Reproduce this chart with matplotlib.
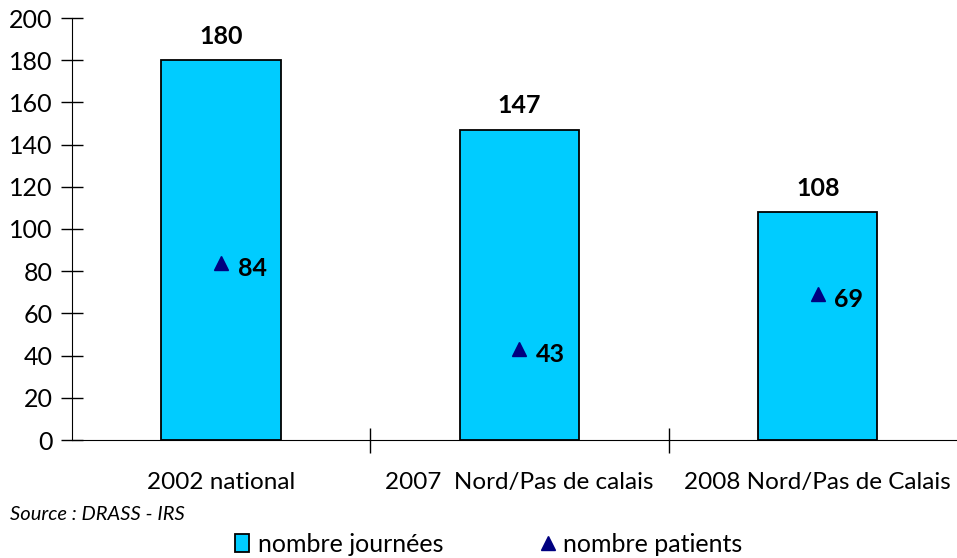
import matplotlib.pyplot as plt
from matplotlib.lines import Line2D
from matplotlib.patches import Patch

categories = ["2002 national", "2007  Nord/Pas de calais", "2008 Nord/Pas de Calais"]
journees = [180, 147, 108]
patients = [84, 43, 69]

plt.rcParams["font.family"] = ["Lato", "DejaVu Sans"]

bar_color = "#00CCFF"
tri_color = "#000080"

fig = plt.figure(figsize=(9.57, 5.58), dpi=100)
ax = fig.add_axes([72 / 957, 1 - 440 / 558, 895 / 957, 422 / 558])

x = list(range(len(categories)))
ax.bar(x, journees, width=0.40, color=bar_color, edgecolor="black", linewidth=1.3, zorder=2)
ax.plot(x, patients, linestyle="none", marker="^", markersize=10, color=tri_color, zorder=3)

for xi, v in zip(x, journees):
    ax.annotate(str(v), (xi, v), xytext=(0, 9), textcoords="offset points",
                ha="center", va="bottom", fontsize=18, fontweight="bold")
for xi, v in zip(x, patients):
    ax.annotate(str(v), (xi, v), xytext=(12, -4), textcoords="offset points",
                ha="left", va="center", fontsize=18, fontweight="bold")

ax.set_xlim(-0.5, len(categories) - 0.5)
ax.set_ylim(0, 200)
ax.set_yticks(range(0, 201, 20))
ax.tick_params(axis="y", direction="inout", length=16, labelsize=18, width=1, pad=6)
ax.set_xticks([i + 0.5 for i in range(len(categories) - 1)])
ax.set_xticklabels([])
ax.tick_params(axis="x", direction="inout", length=18, width=1)
for xi, lab in zip(x, categories):
    ax.text(xi, -20, lab, ha="center", va="center", fontsize=17.5,
            transform=ax.transData, clip_on=False)

for s in ["top", "right"]:
    ax.spines[s].set_visible(False)

fig.text(10 / 957, 1 - 515 / 558, "Source : DRASS - IRS", fontsize=14.5, style="italic",
         ha="left", va="center")

handles = [
    Patch(facecolor=bar_color, edgecolor="black", linewidth=1.3),
    Line2D([], [], linestyle="none", marker="^", markersize=10, color=tri_color),
]
fig.legend(handles, ["nombre journées", "nombre patients"], loc="center",
           bbox_to_anchor=(489 / 957, 1 - 544 / 558), ncol=2, frameon=False,
           fontsize=18, handlelength=0.55, handletextpad=0.35, columnspacing=3.9,
           borderpad=0, borderaxespad=0)

fig.savefig("out.png", dpi=100)
